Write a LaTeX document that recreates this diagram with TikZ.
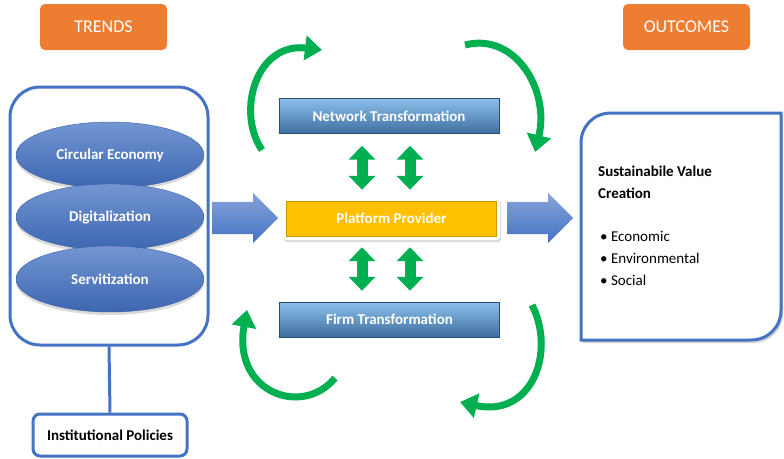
\documentclass[tikz,border=0pt]{standalone}
\usepackage{fontspec}
\setmainfont{Carlito}
\usetikzlibrary{arrows.meta,shapes.geometric,shapes.arrows,shadows}
\definecolor{frameblue}{HTML}{4472C4}
\definecolor{headorange}{HTML}{ED7D31}
\definecolor{loopgreen}{HTML}{00B050}
\definecolor{platyellow}{HTML}{FFC000}
\definecolor{bevtop}{HTML}{8CC0EC}
\definecolor{bevmid}{HTML}{5B9BD5}
\definecolor{bevbot}{HTML}{3F6E9E}
\tikzset{
	lbl/.style={font=\bfseries\fontsize{15}{17}\selectfont},
	headbox/.style={rounded corners=5pt,fill=headorange,text=white,minimum width=127pt,minimum height=46pt,font=\fontsize{18}{20}\selectfont},
	trendell/.style={ellipse,draw=frameblue!85!black,top color=frameblue!75!white,bottom color=frameblue!90!black,minimum width=188pt,minimum height=66pt,text=white,lbl,drop shadow={opacity=0.3,shadow xshift=0pt,shadow yshift=-3pt}},
	bevelbox/.style={draw=bevbot!70!black,top color=bevtop,middle color=bevmid,bottom color=bevbot,text=white,minimum width=220pt,minimum height=35pt,lbl},
	bigarrow/.style={single arrow,single arrow head extend=9pt,inner xsep=0pt,inner ysep=16pt,minimum height=66pt,anchor=tail,top color=frameblue!65!white,bottom color=frameblue},
	dbl/.style={draw=loopgreen,line width=11pt,{Triangle[width=26pt,length=14pt]}-{Triangle[width=26pt,length=14pt]}},
	loop/.style={draw=loopgreen,line width=7pt,-{Triangle[width=24pt,length=17pt]}},
}
\begin{document}
\begin{tikzpicture}[x=1pt,y=-1pt]
	\useasboundingbox (0,0) rectangle (784,458);
	% headings
	\node[headbox](trends) at (103.5,27){TRENDS};
	\node[headbox](outcomes) at (686.5,27){OUTCOMES};
	% trends
	\node[draw=frameblue,line width=3pt,rounded corners=30pt,minimum width=198pt,minimum height=258pt](trendbox) at (109,216){};
	\node[trendell](circ) at (110,155){Circular Economy};
	\node[trendell](digi) at (110,217){Digitalization};
	\node[trendell](serv) at (110,279){Servitization};
	\node[draw=frameblue,line width=3pt,rounded corners=7pt,minimum width=154pt,minimum height=42pt,lbl](policy) at (110,435){Institutional Policies};
	\draw[frameblue,line width=3pt] (trendbox.south)--(policy.north);
	% centre
	\node[bevelbox](net) at (389,116){Network Transformation};
	\node[bevelbox](firm) at (389.5,319.5){Firm Transformation};
	\node[fill=white,minimum width=217pt,minimum height=43pt,rounded corners=3pt,drop shadow={opacity=0.3,shadow xshift=1pt,shadow yshift=-2pt}](platout) at (391.5,218.5){};
	\node[fill=platyellow,draw=platyellow!80!black,minimum width=210pt,minimum height=35pt,text=white,lbl](plat) at (391.5,218.5){Platform Provider};
	\node[bigarrow](inarrow) at (212,218){};
	\node[bigarrow](outarrow) at (507,218){};
	\coordinate (la) at (362,0);
	\coordinate (ra) at (410,0);
	\draw[dbl,shorten <=12pt,shorten >=7pt] (net.south -| la)--(platout.north -| la);
	\draw[dbl,shorten <=12pt,shorten >=7pt] (net.south -| ra)--(platout.north -| ra);
	\draw[dbl,shorten <=7pt,shorten >=11pt] (platout.south -| la)--(firm.north -| la);
	\draw[dbl,shorten <=7pt,shorten >=11pt] (platout.south -| ra)--(firm.north -| ra);
	% loops
	\coordinate (tla) at (262,150);
	\coordinate (tlb) at (322,50);
	\coordinate (tra) at (465,45);
	\coordinate (trb) at (535,152);
	\coordinate (bla) at (335,378);
	\coordinate (blb) at (247,310);
	\coordinate (bra) at (532,305);
	\coordinate (brb) at (460,402);
	\draw[loop] (tla) .. controls (236,112) and (256,42) .. (tlb);
	\draw[loop] (tra) .. controls (515,32) and (550,90) .. (trb);
	\draw[loop] (bla) .. controls (302,418) and (232,392) .. (blb);
	\draw[loop] (bra) .. controls (556,352) and (532,418) .. (brb);
	% outcomes
	\draw[frameblue,line width=3pt,fill=white,drop shadow={opacity=0.35,shadow xshift=2pt,shadow yshift=-3pt}] (581,340)--(581,143) .. controls (581,126) and (594,113) .. (611,113)--(781,113)--(781,310) .. controls (781,327) and (768,340) .. (751,340)--cycle;
	\node[anchor=north west,align=left,inner sep=0pt,font=\bfseries\fontsize{15}{22}\selectfont](svc) at (598,166){Sustainabile Value\\Creation};
	\node[anchor=north west,align=left,inner sep=0pt,font=\fontsize{15}{22}\selectfont](dims) at (600,231){\textbullet\ Economic\\\textbullet\ Environmental\\\textbullet\ Social};
\end{tikzpicture}
\end{document}
